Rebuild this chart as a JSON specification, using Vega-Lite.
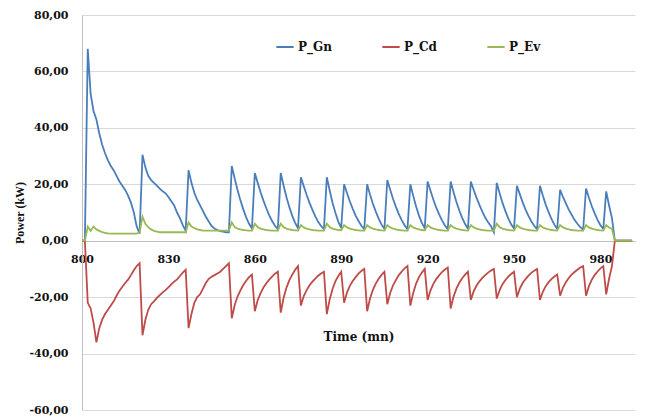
{
"$schema": "https://vega.github.io/schema/vega-lite/v6.json",
"width": 553, "height": 395,
"autosize": "none",
"padding": {"left": 82, "top": 15, "right": 15, "bottom": 10},
"background": "white",
"view": {"stroke": "transparent"},
"config": {"view": {"stroke": "transparent"}, "locale": {"number": {"decimal": ",", "thousands": ".", "grouping": [3], "currency": ["", ""], "minus": "-"}}},
"data": {"values": [
{"t":800,"P_Gn":0,"P_Cd":0,"P_Ev":0},
{"t":801,"P_Gn":0,"P_Cd":0,"P_Ev":0},
{"t":802,"P_Gn":68,"P_Cd":-22,"P_Ev":5},
{"t":803,"P_Gn":52,"P_Cd":-24,"P_Ev":3.5},
{"t":804,"P_Gn":46,"P_Cd":-29,"P_Ev":5},
{"t":805,"P_Gn":43,"P_Cd":-36,"P_Ev":4},
{"t":806,"P_Gn":38,"P_Cd":-31,"P_Ev":3.5},
{"t":807,"P_Gn":34,"P_Cd":-28,"P_Ev":3},
{"t":808,"P_Gn":31,"P_Cd":-26,"P_Ev":2.8},
{"t":809,"P_Gn":28.5,"P_Cd":-24.5,"P_Ev":2.6},
{"t":810,"P_Gn":26.5,"P_Cd":-23,"P_Ev":2.5},
{"t":811,"P_Gn":25,"P_Cd":-21.5,"P_Ev":2.5},
{"t":812,"P_Gn":23,"P_Cd":-19.5,"P_Ev":2.5},
{"t":813,"P_Gn":21,"P_Cd":-17.7,"P_Ev":2.5},
{"t":814,"P_Gn":19.5,"P_Cd":-16.3,"P_Ev":2.5},
{"t":815,"P_Gn":18,"P_Cd":-15,"P_Ev":2.5},
{"t":816,"P_Gn":16,"P_Cd":-13.8,"P_Ev":2.5},
{"t":817,"P_Gn":13.5,"P_Cd":-12.2,"P_Ev":2.5},
{"t":818,"P_Gn":10,"P_Cd":-10.5,"P_Ev":2.5},
{"t":819,"P_Gn":5,"P_Cd":-9,"P_Ev":2.5},
{"t":820,"P_Gn":2.5,"P_Cd":-8,"P_Ev":3},
{"t":821,"P_Gn":30.5,"P_Cd":-33.5,"P_Ev":8.5},
{"t":822,"P_Gn":26,"P_Cd":-28,"P_Ev":6},
{"t":823,"P_Gn":23,"P_Cd":-24.5,"P_Ev":4.8},
{"t":824,"P_Gn":21.5,"P_Cd":-22.5,"P_Ev":4},
{"t":825,"P_Gn":20.5,"P_Cd":-21.5,"P_Ev":3.5},
{"t":826,"P_Gn":19.5,"P_Cd":-20.3,"P_Ev":3.2},
{"t":827,"P_Gn":18.5,"P_Cd":-19.3,"P_Ev":3},
{"t":828,"P_Gn":17.5,"P_Cd":-18.3,"P_Ev":3},
{"t":829,"P_Gn":16.8,"P_Cd":-17.5,"P_Ev":3},
{"t":830,"P_Gn":15.5,"P_Cd":-16.5,"P_Ev":3},
{"t":831,"P_Gn":14,"P_Cd":-15.5,"P_Ev":3},
{"t":832,"P_Gn":12.5,"P_Cd":-14.5,"P_Ev":3},
{"t":833,"P_Gn":10,"P_Cd":-13.7,"P_Ev":3},
{"t":834,"P_Gn":8,"P_Cd":-12.5,"P_Ev":3},
{"t":835,"P_Gn":5.5,"P_Cd":-11.3,"P_Ev":3},
{"t":836,"P_Gn":3.5,"P_Cd":-10.3,"P_Ev":3},
{"t":837,"P_Gn":25,"P_Cd":-31,"P_Ev":6.5},
{"t":838,"P_Gn":20.5,"P_Cd":-26,"P_Ev":5},
{"t":839,"P_Gn":17,"P_Cd":-22,"P_Ev":4.5},
{"t":840,"P_Gn":14.5,"P_Cd":-20,"P_Ev":4},
{"t":841,"P_Gn":12.5,"P_Cd":-19,"P_Ev":3.8},
{"t":842,"P_Gn":10.5,"P_Cd":-17,"P_Ev":3.6},
{"t":843,"P_Gn":8.5,"P_Cd":-15,"P_Ev":3.6},
{"t":844,"P_Gn":6.8,"P_Cd":-13.5,"P_Ev":3.6},
{"t":845,"P_Gn":5.2,"P_Cd":-12.8,"P_Ev":3.6},
{"t":846,"P_Gn":4.3,"P_Cd":-12.2,"P_Ev":3.6},
{"t":847,"P_Gn":3.8,"P_Cd":-11.6,"P_Ev":3.6},
{"t":848,"P_Gn":3.4,"P_Cd":-11,"P_Ev":3.6},
{"t":849,"P_Gn":3.2,"P_Cd":-10,"P_Ev":3.6},
{"t":850,"P_Gn":3,"P_Cd":-9,"P_Ev":3.6},
{"t":851,"P_Gn":3,"P_Cd":-8,"P_Ev":3.6},
{"t":852,"P_Gn":26.5,"P_Cd":-27.5,"P_Ev":6.5},
{"t":853,"P_Gn":22.1,"P_Cd":-22.9,"P_Ev":4.8},
{"t":854,"P_Gn":18,"P_Cd":-19.8,"P_Ev":4.3},
{"t":855,"P_Gn":14.3,"P_Cd":-17.6,"P_Ev":4},
{"t":856,"P_Gn":11.1,"P_Cd":-15.7,"P_Ev":3.8},
{"t":857,"P_Gn":8.3,"P_Cd":-14.2,"P_Ev":3.7},
{"t":858,"P_Gn":6,"P_Cd":-12.9,"P_Ev":3.6},
{"t":859,"P_Gn":4.3,"P_Cd":-12,"P_Ev":3.6},
{"t":860,"P_Gn":24,"P_Cd":-25,"P_Ev":6},
{"t":861,"P_Gn":20.5,"P_Cd":-21.1,"P_Ev":4.8},
{"t":862,"P_Gn":17.2,"P_Cd":-18.6,"P_Ev":4.3},
{"t":863,"P_Gn":14.2,"P_Cd":-16.6,"P_Ev":4},
{"t":864,"P_Gn":11.5,"P_Cd":-15.1,"P_Ev":3.8},
{"t":865,"P_Gn":9,"P_Cd":-13.8,"P_Ev":3.7},
{"t":866,"P_Gn":7,"P_Cd":-12.7,"P_Ev":3.6},
{"t":867,"P_Gn":5.3,"P_Cd":-11.7,"P_Ev":3.6},
{"t":868,"P_Gn":4.1,"P_Cd":-11,"P_Ev":3.6},
{"t":869,"P_Gn":24,"P_Cd":-25.5,"P_Ev":6},
{"t":870,"P_Gn":19.5,"P_Cd":-20.2,"P_Ev":4.8},
{"t":871,"P_Gn":15.4,"P_Cd":-16.6,"P_Ev":4.3},
{"t":872,"P_Gn":11.9,"P_Cd":-14,"P_Ev":4},
{"t":873,"P_Gn":8.8,"P_Cd":-12,"P_Ev":3.8},
{"t":874,"P_Gn":6.3,"P_Cd":-10.3,"P_Ev":3.7},
{"t":875,"P_Gn":4.4,"P_Cd":-9,"P_Ev":3.6},
{"t":876,"P_Gn":22.5,"P_Cd":-23,"P_Ev":5.5},
{"t":877,"P_Gn":19.3,"P_Cd":-19.6,"P_Ev":4.7},
{"t":878,"P_Gn":16.2,"P_Cd":-17.5,"P_Ev":4.3},
{"t":879,"P_Gn":13.4,"P_Cd":-15.8,"P_Ev":4},
{"t":880,"P_Gn":10.9,"P_Cd":-14.5,"P_Ev":3.8},
{"t":881,"P_Gn":8.6,"P_Cd":-13.4,"P_Ev":3.7},
{"t":882,"P_Gn":6.7,"P_Cd":-12.4,"P_Ev":3.6},
{"t":883,"P_Gn":5.2,"P_Cd":-11.6,"P_Ev":3.6},
{"t":884,"P_Gn":4.1,"P_Cd":-11,"P_Ev":3.6},
{"t":885,"P_Gn":22.5,"P_Cd":-26,"P_Ev":6},
{"t":886,"P_Gn":17.8,"P_Cd":-20.8,"P_Ev":4.8},
{"t":887,"P_Gn":13.4,"P_Cd":-17,"P_Ev":4.3},
{"t":888,"P_Gn":9.8,"P_Cd":-14.3,"P_Ev":4},
{"t":889,"P_Gn":6.7,"P_Cd":-12.5,"P_Ev":3.8},
{"t":890,"P_Gn":4.6,"P_Cd":-11,"P_Ev":3.7},
{"t":891,"P_Gn":20,"P_Cd":-22,"P_Ev":5.5},
{"t":892,"P_Gn":16.9,"P_Cd":-18.4,"P_Ev":4.7},
{"t":893,"P_Gn":13.9,"P_Cd":-16,"P_Ev":4.3},
{"t":894,"P_Gn":11.3,"P_Cd":-14.3,"P_Ev":4},
{"t":895,"P_Gn":8.9,"P_Cd":-12.9,"P_Ev":3.8},
{"t":896,"P_Gn":7,"P_Cd":-11.7,"P_Ev":3.7},
{"t":897,"P_Gn":5.3,"P_Cd":-10.7,"P_Ev":3.6},
{"t":898,"P_Gn":4.1,"P_Cd":-10,"P_Ev":3.6},
{"t":899,"P_Gn":20,"P_Cd":-25,"P_Ev":5.5},
{"t":900,"P_Gn":16.4,"P_Cd":-20.5,"P_Ev":4.7},
{"t":901,"P_Gn":13.1,"P_Cd":-17.4,"P_Ev":4.3},
{"t":902,"P_Gn":10.3,"P_Cd":-15.2,"P_Ev":4},
{"t":903,"P_Gn":7.8,"P_Cd":-13.5,"P_Ev":3.8},
{"t":904,"P_Gn":5.7,"P_Cd":-12.1,"P_Ev":3.7},
{"t":905,"P_Gn":4.2,"P_Cd":-11,"P_Ev":3.6},
{"t":906,"P_Gn":21.5,"P_Cd":-22.5,"P_Ev":5.5},
{"t":907,"P_Gn":18.1,"P_Cd":-18.5,"P_Ev":4.7},
{"t":908,"P_Gn":14.8,"P_Cd":-15.8,"P_Ev":4.3},
{"t":909,"P_Gn":12,"P_Cd":-13.9,"P_Ev":4},
{"t":910,"P_Gn":9.4,"P_Cd":-12.2,"P_Ev":3.8},
{"t":911,"P_Gn":7.3,"P_Cd":-10.9,"P_Ev":3.7},
{"t":912,"P_Gn":5.5,"P_Cd":-9.8,"P_Ev":3.6},
{"t":913,"P_Gn":4.1,"P_Cd":-9,"P_Ev":3.6},
{"t":914,"P_Gn":20,"P_Cd":-23,"P_Ev":5.5},
{"t":915,"P_Gn":15.9,"P_Cd":-18.5,"P_Ev":4.7},
{"t":916,"P_Gn":12.1,"P_Cd":-15.2,"P_Ev":4.3},
{"t":917,"P_Gn":8.9,"P_Cd":-12.9,"P_Ev":4},
{"t":918,"P_Gn":6.3,"P_Cd":-11.3,"P_Ev":3.8},
{"t":919,"P_Gn":4.4,"P_Cd":-10,"P_Ev":3.7},
{"t":920,"P_Gn":21,"P_Cd":-21,"P_Ev":5.5},
{"t":921,"P_Gn":17.7,"P_Cd":-17.6,"P_Ev":4.7},
{"t":922,"P_Gn":14.5,"P_Cd":-15.3,"P_Ev":4.3},
{"t":923,"P_Gn":11.7,"P_Cd":-13.6,"P_Ev":4},
{"t":924,"P_Gn":9.3,"P_Cd":-12.3,"P_Ev":3.8},
{"t":925,"P_Gn":7.2,"P_Cd":-11.1,"P_Ev":3.7},
{"t":926,"P_Gn":5.4,"P_Cd":-10.2,"P_Ev":3.6},
{"t":927,"P_Gn":4.1,"P_Cd":-9.5,"P_Ev":3.6},
{"t":928,"P_Gn":21,"P_Cd":-24,"P_Ev":5.5},
{"t":929,"P_Gn":17.2,"P_Cd":-19.8,"P_Ev":4.7},
{"t":930,"P_Gn":13.7,"P_Cd":-17,"P_Ev":4.3},
{"t":931,"P_Gn":10.7,"P_Cd":-14.9,"P_Ev":4},
{"t":932,"P_Gn":8.1,"P_Cd":-13.3,"P_Ev":3.8},
{"t":933,"P_Gn":5.9,"P_Cd":-12,"P_Ev":3.7},
{"t":934,"P_Gn":4.3,"P_Cd":-11,"P_Ev":3.6},
{"t":935,"P_Gn":21,"P_Cd":-21,"P_Ev":5.5},
{"t":936,"P_Gn":18,"P_Cd":-17.9,"P_Ev":4.7},
{"t":937,"P_Gn":15.2,"P_Cd":-15.9,"P_Ev":4.3},
{"t":938,"P_Gn":12.6,"P_Cd":-14.4,"P_Ev":4},
{"t":939,"P_Gn":10.3,"P_Cd":-13.2,"P_Ev":3.8},
{"t":940,"P_Gn":8.2,"P_Cd":-12.2,"P_Ev":3.7},
{"t":941,"P_Gn":6.5,"P_Cd":-11.3,"P_Ev":3.6},
{"t":942,"P_Gn":5.1,"P_Cd":-10.6,"P_Ev":3.6},
{"t":943,"P_Gn":3,"P_Cd":-10,"P_Ev":3.6},
{"t":944,"P_Gn":20.5,"P_Cd":-20.5,"P_Ev":6},
{"t":945,"P_Gn":16.8,"P_Cd":-17.5,"P_Ev":4.8},
{"t":946,"P_Gn":13.4,"P_Cd":-15.4,"P_Ev":4.3},
{"t":947,"P_Gn":10.5,"P_Cd":-13.9,"P_Ev":4},
{"t":948,"P_Gn":7.9,"P_Cd":-12.7,"P_Ev":3.8},
{"t":949,"P_Gn":5.8,"P_Cd":-11.8,"P_Ev":3.7},
{"t":950,"P_Gn":4.3,"P_Cd":-11,"P_Ev":3.6},
{"t":951,"P_Gn":19.5,"P_Cd":-20,"P_Ev":5.5},
{"t":952,"P_Gn":16.5,"P_Cd":-17,"P_Ev":4.7},
{"t":953,"P_Gn":13.6,"P_Cd":-15,"P_Ev":4.3},
{"t":954,"P_Gn":11,"P_Cd":-13.6,"P_Ev":4},
{"t":955,"P_Gn":8.8,"P_Cd":-12.4,"P_Ev":3.8},
{"t":956,"P_Gn":6.9,"P_Cd":-11.4,"P_Ev":3.7},
{"t":957,"P_Gn":5.3,"P_Cd":-10.6,"P_Ev":3.6},
{"t":958,"P_Gn":4.1,"P_Cd":-10,"P_Ev":3.6},
{"t":959,"P_Gn":19.5,"P_Cd":-21,"P_Ev":5.5},
{"t":960,"P_Gn":16,"P_Cd":-18.1,"P_Ev":4.7},
{"t":961,"P_Gn":12.8,"P_Cd":-16.1,"P_Ev":4.3},
{"t":962,"P_Gn":10.1,"P_Cd":-14.7,"P_Ev":4},
{"t":963,"P_Gn":7.7,"P_Cd":-13.6,"P_Ev":3.8},
{"t":964,"P_Gn":5.7,"P_Cd":-12.7,"P_Ev":3.7},
{"t":965,"P_Gn":4.2,"P_Cd":-12,"P_Ev":3.6},
{"t":966,"P_Gn":18,"P_Cd":-19.5,"P_Ev":5.5},
{"t":967,"P_Gn":15.5,"P_Cd":-16.6,"P_Ev":4.7},
{"t":968,"P_Gn":13.2,"P_Cd":-14.7,"P_Ev":4.3},
{"t":969,"P_Gn":11,"P_Cd":-13.2,"P_Ev":4},
{"t":970,"P_Gn":9.2,"P_Cd":-12,"P_Ev":3.8},
{"t":971,"P_Gn":7.4,"P_Cd":-11.1,"P_Ev":3.7},
{"t":972,"P_Gn":6,"P_Cd":-10.3,"P_Ev":3.6},
{"t":973,"P_Gn":4.8,"P_Cd":-9.5,"P_Ev":3.6},
{"t":974,"P_Gn":3.9,"P_Cd":-9,"P_Ev":3.6},
{"t":975,"P_Gn":18.5,"P_Cd":-19.5,"P_Ev":5.5},
{"t":976,"P_Gn":15.2,"P_Cd":-16.1,"P_Ev":4.7},
{"t":977,"P_Gn":12.2,"P_Cd":-13.8,"P_Ev":4.3},
{"t":978,"P_Gn":9.7,"P_Cd":-12.2,"P_Ev":4},
{"t":979,"P_Gn":7.4,"P_Cd":-10.9,"P_Ev":3.8},
{"t":980,"P_Gn":5.5,"P_Cd":-9.8,"P_Ev":3.7},
{"t":981,"P_Gn":4.2,"P_Cd":-9,"P_Ev":3.6},
{"t":982,"P_Gn":17.5,"P_Cd":-19,"P_Ev":5.5},
{"t":983,"P_Gn":12.5,"P_Cd":-13.5,"P_Ev":4.7},
{"t":984,"P_Gn":8,"P_Cd":-9,"P_Ev":4.2},
{"t":985,"P_Gn":0,"P_Cd":0,"P_Ev":0},
{"t":986,"P_Gn":0,"P_Cd":0,"P_Ev":0},
{"t":987,"P_Gn":0,"P_Cd":0,"P_Ev":0},
{"t":988,"P_Gn":0,"P_Cd":0,"P_Ev":0},
{"t":989,"P_Gn":0,"P_Cd":0,"P_Ev":0},
{"t":990,"P_Gn":0,"P_Cd":0,"P_Ev":0},
{"t":991,"P_Gn":0,"P_Cd":0,"P_Ev":0}
]},
"transform": [{"fold": ["P_Gn", "P_Cd", "P_Ev"], "as": ["series", "value"]}],
"mark": {"type": "line", "strokeWidth": 1.8},
"encoding": {
"x": {"field": "t", "type": "quantitative", "scale": {"domain": [800, 992], "nice": false, "zero": false},
"axis": {"title": "Time (mn)", "values": [800, 830, 860, 890, 920, 950, 980], "format": "d", "offset": -169, "grid": false, "ticks": false, "labelPadding": 12, "labelFlush": false, "labelFont": "DejaVu Serif", "labelFontWeight": "bold", "labelFontSize": 11, "labelColor": "#111", "domainColor": "#bfbfbf", "titleFont": "DejaVu Serif", "titleFontWeight": "bold", "titleFontSize": 12, "titleColor": "#111", "titlePadding": 67}},
"y": {"field": "value", "type": "quantitative", "scale": {"domain": [-60, 80], "nice": false},
"axis": {"title": "Power (kW)", "values": [-60, -40, -20, 0, 20, 40, 60, 80], "format": ".2f", "grid": true, "gridColor": "#d9d9d9", "ticks": false, "labelPadding": 14, "labelFont": "DejaVu Serif", "labelFontWeight": "bold", "labelFontSize": 11, "labelColor": "#111", "domainColor": "#bfbfbf", "titleFont": "Liberation Serif", "titleFontWeight": "bold", "titleFontSize": 12, "titleColor": "#111", "titlePadding": 2}},
"color": {"field": "series", "type": "nominal", "scale": {"domain": ["P_Gn", "P_Cd", "P_Ev"], "range": ["#4a7ebb", "#be4b48", "#98b954"]},
"legend": {"title": null, "orient": "none", "legendX": 193, "legendY": 22, "direction": "horizontal", "symbolType": "stroke", "symbolSize": 300, "symbolStrokeWidth": 2, "labelFont": "DejaVu Serif", "labelFontWeight": "bold", "labelFontSize": 12, "labelColor": "#111", "columnPadding": 46, "labelOffset": 3, "padding": 0}}
}
}
